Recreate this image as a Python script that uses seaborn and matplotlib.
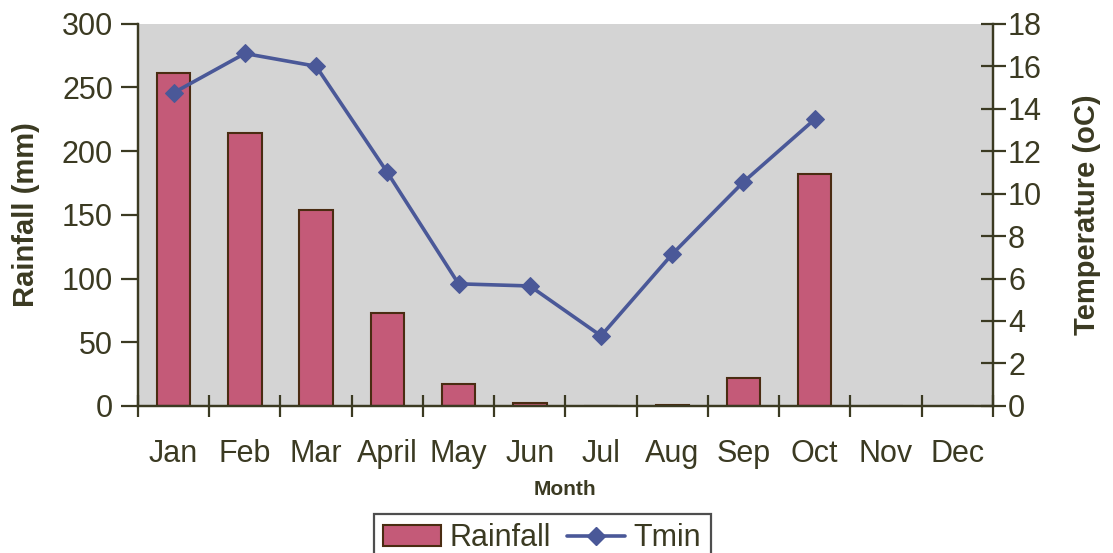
import numpy as np
import pandas as pd
import matplotlib
matplotlib.use("Agg")
import matplotlib.pyplot as plt
from matplotlib.ticker import FixedLocator, NullFormatter
import seaborn as sns

months = ["Jan", "Feb", "Mar", "April", "May", "Jun", "Jul", "Aug", "Sep", "Oct", "Nov", "Dec"]
rainfall = [261, 214, 154, 73, 17, 2, 0, 0.6, 22, 182, 0, 0]
tmin = [14.75, 16.6, 16.0, 11.0, 5.75, 5.65, 3.3, 7.15, 10.55, 13.5, np.nan, np.nan]

TEXT = "#3b3a22"
BAR = "#c45a78"
BAR_EDGE = "#4a2c12"
LINE = "#4a5898"

sns.set_theme(style="white")
plt.rcParams["font.family"] = ["Liberation Sans", "DejaVu Sans"]
plt.rcParams["text.color"] = TEXT
plt.rcParams["axes.labelcolor"] = TEXT
plt.rcParams["xtick.color"] = TEXT
plt.rcParams["ytick.color"] = TEXT

df = pd.DataFrame({"Month": months, "Rainfall": rainfall, "Tmin": tmin})
df["pos"] = np.arange(len(months))

fig = plt.figure(figsize=(11.13, 5.53), dpi=100)
ax = fig.add_axes([0.124, 0.266, 0.768, 0.691])
ax.set_facecolor("#d4d4d4")

sns.barplot(data=df, x="Month", y="Rainfall", ax=ax, color=BAR, width=0.47,
            edgecolor=BAR_EDGE, linewidth=1.5, saturation=1)
ax.set_xlim(-0.5, len(months) - 0.5)
ax.set_ylim(0, 300)
ax.set_yticks(range(0, 301, 50))

ax2 = ax.twinx()
sns.lineplot(data=df, x="pos", y="Tmin", ax=ax2, color=LINE, linewidth=2.6,
             marker="D", markersize=9, markeredgecolor=LINE)
ax2.set_ylim(0, 18)
ax2.set_yticks(range(0, 19, 2))
ax2.set_xlim(-0.5, len(months) - 0.5)

# category boundaries carry the tick marks; labels sit at centres
ax.set_xticks(np.arange(len(months)))
ax.set_xticklabels(months)
ax.xaxis.set_minor_locator(FixedLocator(np.arange(-0.5, len(months), 1.0)))
ax.xaxis.set_minor_formatter(NullFormatter())
ax.tick_params(axis="x", which="major", length=0, labelsize=22, pad=24)
ax.tick_params(axis="x", which="minor", length=16, width=1.6, direction="inout",
               bottom=True, color=TEXT)
ax.tick_params(axis="y", which="major", length=12, width=1.6, direction="out",
               labelsize=22, pad=6, left=True, color=TEXT)
ax2.tick_params(axis="y", which="major", length=18, width=1.6, direction="inout",
                labelsize=22, pad=2, right=True, color=TEXT)

for a in (ax, ax2):
    a.spines["top"].set_visible(False)
    for side in ("left", "right", "bottom"):
        a.spines[side].set_color(TEXT)
        a.spines[side].set_linewidth(1.6)

ax.set_xlabel("Month", fontsize=15, fontweight="bold", labelpad=8)
ax.set_ylabel("Rainfall (mm)", fontsize=21, fontweight="bold", labelpad=16)
ax2.set_ylabel("Temperature (oC)", fontsize=21, fontweight="bold", labelpad=22)
ax2.set_xlabel("")

handles = [
    matplotlib.patches.Patch(facecolor=BAR, edgecolor=BAR_EDGE, linewidth=1.5, label="Rainfall"),
    matplotlib.lines.Line2D([], [], color=LINE, linewidth=2.6, marker="D", markersize=9, label="Tmin"),
]
leg = fig.legend(handles=handles, loc="lower center", bbox_to_anchor=(0.487, -0.045),
                 ncol=2, fontsize=22, frameon=True, fancybox=False, handlelength=1.9,
                 handletextpad=0.3, columnspacing=0.5, borderpad=0.3)
leg.get_frame().set_edgecolor("#222222")
leg.get_frame().set_linewidth(1.6)
if ax2.get_legend() is not None:
    ax2.get_legend().remove()

fig.savefig("out.png", dpi=100)
